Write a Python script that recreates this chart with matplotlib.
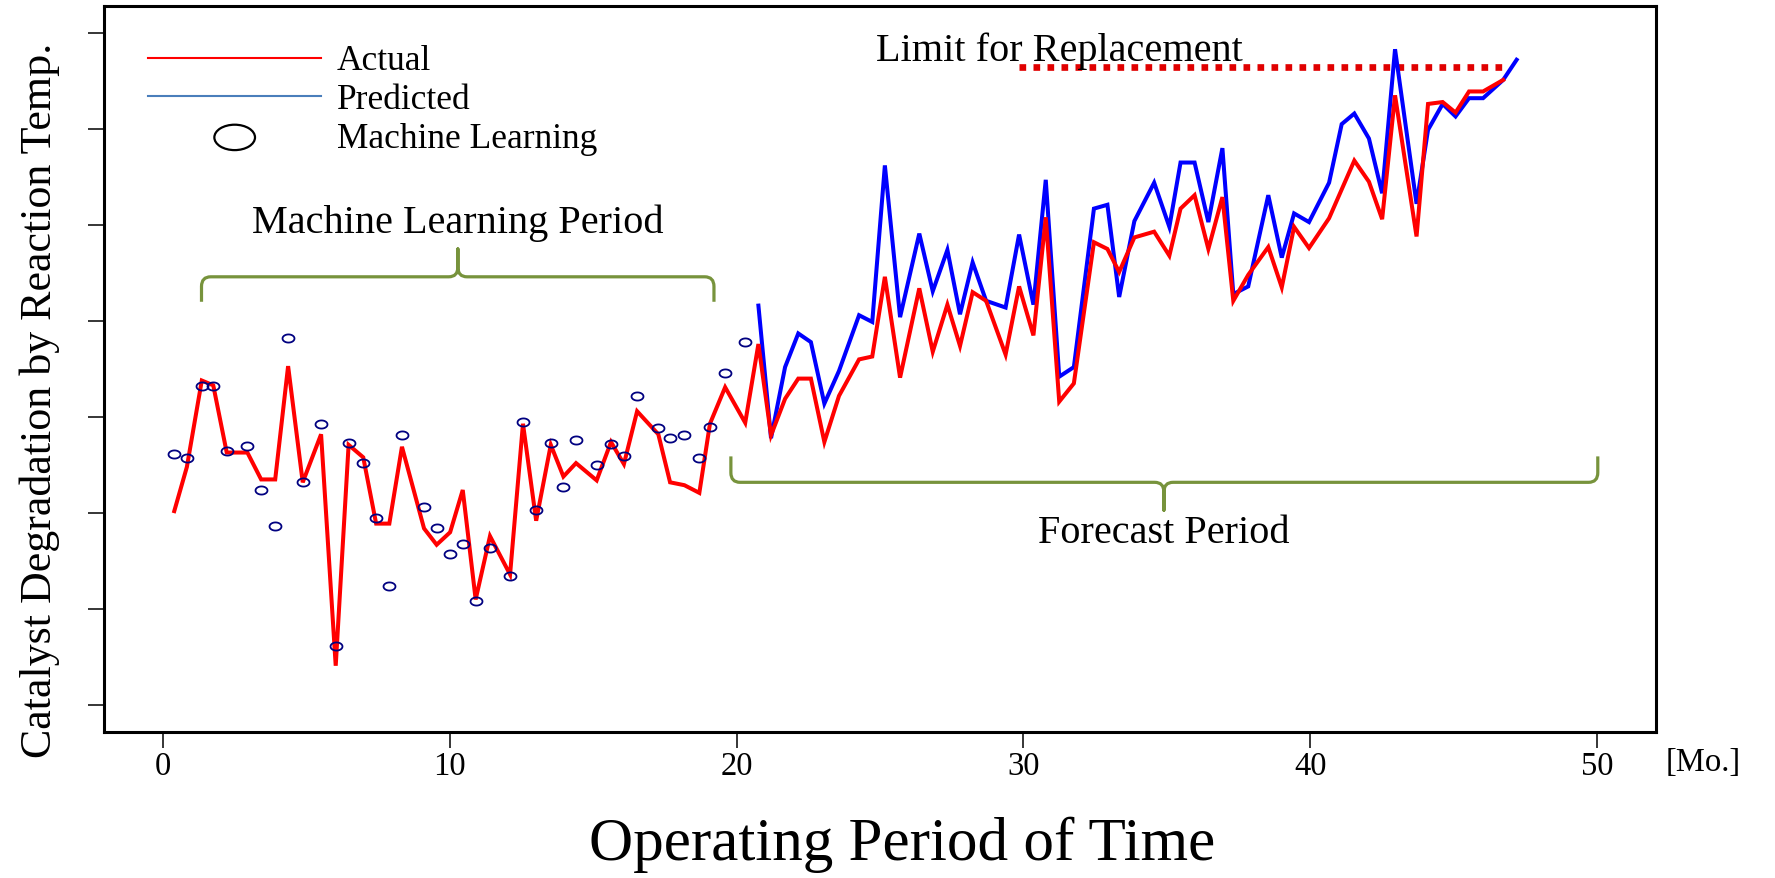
import matplotlib
matplotlib.use('Agg')
import matplotlib.pyplot as plt
from matplotlib.path import Path
from matplotlib.patches import PathPatch, Ellipse
import matplotlib.transforms as mtransforms
import numpy as np

# ---------------- data ----------------
ml_months = [0.39, 0.83, 1.35, 1.75, 2.22, 2.94, 3.42, 3.91, 4.36, 4.87,
             5.51, 6.02, 6.47, 6.98, 7.43, 7.89, 8.33, 9.10, 9.54, 10.01,
             10.45, 10.90, 11.40, 12.10, 12.55, 13.01, 13.52, 13.96, 14.40, 15.12,
             15.62, 16.07, 16.53, 17.27, 17.68, 18.18, 18.70, 19.07, 19.60, 20.30]
actual_ml = [2.02, 2.48, 3.38, 3.33, 2.63, 2.63, 2.35, 2.35, 3.53, 2.32,
             2.82, 0.41, 2.71, 2.58, 1.89, 1.89, 2.69, 1.84, 1.67, 1.80,
             2.24, 1.10, 1.76, 1.36, 2.93, 1.92, 2.71, 2.38, 2.52, 2.34,
             2.74, 2.51, 3.06, 2.82, 2.32, 2.29, 2.21, 2.93, 3.31, 2.94]
ml_fit = [2.61, 2.57, 3.32, 3.32, 2.65, 2.70, 2.24, 1.87, 3.82, 2.32,
          2.93, 0.62, 2.73, 2.52, 1.95, 1.24, 2.81, 2.06, 1.84, 1.57,
          1.68, 1.08, 1.64, 1.34, 2.95, 2.03, 2.73, 2.27, 2.76, 2.50,
          2.72, 2.59, 3.22, 2.89, 2.78, 2.81, 2.57, 2.90, 3.46, 3.78]

fc_months = [20.76, 21.20, 21.69, 22.15, 22.59, 23.06, 23.57, 24.27, 24.73, 25.17,
             25.70, 26.37, 26.84, 27.35, 27.79, 28.23, 28.70, 29.38, 29.85, 30.35,
             30.78, 31.25, 31.76, 32.46, 32.93, 33.34, 33.87, 34.56, 35.09, 35.48,
             35.97, 36.45, 36.94, 37.32, 37.84, 38.54, 39.01, 39.44, 39.96, 40.66,
             41.10, 41.54, 42.05, 42.51, 42.96, 43.71, 44.11, 44.62, 45.07, 45.54,
             46.03, 46.73, 47.20]
actual_fc = [3.76, 2.81, 3.19, 3.40, 3.40, 2.74, 3.22, 3.60, 3.63, 4.46,
             3.41, 4.34, 3.68, 4.17, 3.74, 4.30, 4.21, 3.65, 4.36, 3.85,
             5.08, 3.16, 3.35, 4.82, 4.75, 4.51, 4.87, 4.93, 4.68, 5.17,
             5.31, 4.75, 5.29, 4.21, 4.48, 4.77, 4.35, 4.98, 4.76, 5.07,
             5.37, 5.67, 5.45, 5.06, 6.35, 4.88, 6.26, 6.28, 6.17, 6.39,
             6.39, 6.51]
predicted_fc = [4.16, 2.78, 3.52, 3.87, 3.78, 3.14, 3.48, 4.06, 3.99, 5.62,
                4.04, 4.91, 4.31, 4.74, 4.07, 4.61, 4.21, 4.14, 4.90, 4.17,
                5.47, 3.42, 3.52, 5.17, 5.21, 4.25, 5.04, 5.44, 4.98, 5.65,
                5.65, 5.03, 5.80, 4.28, 4.36, 5.31, 4.66, 5.12, 5.03, 5.44,
                6.05, 6.16, 5.90, 5.33, 6.83, 5.22, 5.99, 6.26, 6.13, 6.32,
                6.32, 6.51, 6.72]

limit_level = 6.64
limit_start, limit_end = 29.85, 46.8

x_ticks = [0, 10, 20, 30, 40, 50]
y_ticks = [0, 1, 2, 3, 4, 5, 6, 7]

SERIF = ['Liberation Serif', 'DejaVu Serif']
plt.rcParams['font.family'] = SERIF

RED = '#ff0000'
BLUE = '#0000ff'
NAVY = '#000080'
OLIVE = '#77933c'

fig = plt.figure(figsize=(17.75, 8.79), dpi=100)
ax = fig.add_axes([104 / 1775, 1 - 733 / 879, 1552 / 1775, 726 / 879])
ax.set_xlim(-2.06, 52.06)
ax.set_ylim(-0.28, 7.28)

# lines
actual_x = ml_months + fc_months[:len(actual_fc)]
actual_y = actual_ml + actual_fc
ax.plot(fc_months, predicted_fc, color=BLUE, lw=2.9, solid_joinstyle='miter', zorder=3)
ax.plot(actual_x, actual_y, color=RED, lw=2.9, solid_joinstyle='miter', zorder=4)

# ellipse marker for machine-learning points
theta = np.linspace(0, 2 * np.pi, 60)
ell_path = Path(np.column_stack([np.cos(theta), 0.68 * np.sin(theta)]), closed=True)
ax.plot(ml_months, ml_fit, linestyle='none', marker=ell_path, markersize=8.6,
        mfc='none', mec=NAVY, mew=1.3, zorder=5)

# limit for replacement
ax.plot([limit_start, limit_end], [limit_level, limit_level], color='#e00000',
        lw=4.8, linestyle=(0, (1.0, 1.1)), dash_capstyle='butt', zorder=2)
ax.text(31.26, 6.72, 'Limit for Replacement', ha='center', va='baseline',
        fontsize=29, zorder=6)


def brace(x0, x1, xc, y_h, y_end, y_tip, rx=0.32, ry=0.10):
    se = np.sign(y_end - y_h)
    st = np.sign(y_tip - y_h)
    verts = [(x0, y_end), (x0, y_h + se * ry), (x0, y_h), (x0 + rx, y_h),
             (xc - rx, y_h), (xc, y_h), (xc, y_h + st * ry), (xc, y_tip),
             (xc, y_h + st * ry), (xc, y_h), (xc + rx, y_h),
             (x1 - rx, y_h), (x1, y_h), (x1, y_h + se * ry), (x1, y_end)]
    codes = [Path.MOVETO, Path.LINETO, Path.CURVE3, Path.CURVE3,
             Path.LINETO, Path.CURVE3, Path.CURVE3, Path.LINETO,
             Path.LINETO, Path.CURVE3, Path.CURVE3,
             Path.LINETO, Path.CURVE3, Path.CURVE3, Path.LINETO]
    ax.add_patch(PathPatch(Path(verts, codes), fill=False, edgecolor=OLIVE,
                           lw=2.3, capstyle='butt', joinstyle='round', zorder=2))


brace(1.34, 19.21, 10.28, 4.46, 4.20, 4.75)
brace(19.80, 50.03, 34.90, 2.32, 2.59, 2.03)
ax.text(10.28, 4.93, 'Machine Learning Period', ha='center', va='baseline', fontsize=29)
ax.text(34.89, 1.695, 'Forecast Period', ha='center', va='baseline', fontsize=29)

# legend drawn by hand
ax.plot([0.0282, 0.140], [0.928, 0.928], transform=ax.transAxes, color=RED, lw=1.5)
ax.plot([0.0282, 0.140], [0.876, 0.876], transform=ax.transAxes, color='#4a7ebb', lw=1.5)
ax.add_patch(Ellipse((0.0842, 0.819), 0.0262, 0.0350, transform=ax.transAxes,
                     fill=False, edgecolor='black', lw=1.6))
ax.text(0.150, 0.913, 'Actual', transform=ax.transAxes, ha='left', va='baseline', fontsize=25.5)
ax.text(0.150, 0.860, 'Predicted', transform=ax.transAxes, ha='left', va='baseline', fontsize=25.5)
ax.text(0.150, 0.806, 'Machine Learning', transform=ax.transAxes, ha='left', va='baseline', fontsize=25.5)

# axes styling
ax.set_xticks(x_ticks)
ax.set_xticklabels([str(t) for t in x_ticks])
ax.set_yticks(y_ticks)
ax.set_yticklabels([])
ax.tick_params(direction='out', length=11.5, width=1.1, color='black',
               labelsize=23.5, pad=2)
for sp in ax.spines.values():
    sp.set_linewidth(2.2)
    sp.set_color('black')

trans = mtransforms.blended_transform_factory(ax.transData, ax.transAxes)
ax.text(53.7, -0.053, '[Mo.]', transform=trans, ha='center', va='baseline',
        fontsize=23.5, clip_on=False)

fig.text(902 / 1775, 1 - 860 / 879, 'Operating Period of Time', ha='center',
         va='baseline', fontsize=44)
fig.text(40 / 1775, 1 - 400 / 879, 'Catalyst Degradation by Reaction Temp.',
         rotation=90, ha='center', va='center', fontsize=31.7)

fig.savefig('out.png', dpi=100)
